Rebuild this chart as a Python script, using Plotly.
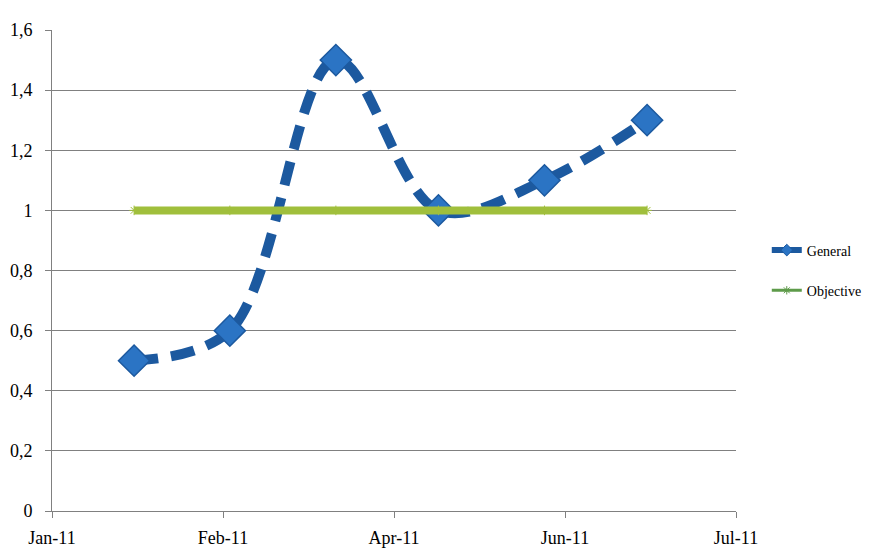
import plotly.graph_objects as go

dates = ["2011-01-31", "2011-02-28", "2011-03-31", "2011-04-30", "2011-05-31", "2011-06-30"]
general = [0.5, 0.6, 1.5, 1.0, 1.1, 1.3]
objective = [1, 1, 1, 1, 1, 1]

x_tickvals = ["2011-01-07", "2011-02-26", "2011-04-17", "2011-06-06", "2011-07-26"]
x_ticktext = ["Jan-11", "Feb-11", "Apr-11", "Jun-11", "Jul-11"]
y_tickvals = [0, 0.2, 0.4, 0.6, 0.8, 1.0, 1.2, 1.4, 1.6]

FONT = "Liberation Serif, DejaVu Serif, serif"
BLUE_LINE = "#1C599F"
BLUE_MARK = "#2B74C4"
GREEN = "#A0BF3C"

fig = go.Figure()
fig.add_trace(go.Scatter(
    x=dates, y=general, name="General", mode="lines+markers", showlegend=False,
    line=dict(color=BLUE_LINE, width=10, dash="24px,13px", shape="spline", smoothing=1.0),
    marker=dict(symbol="diamond", size=24, color=BLUE_MARK,
                line=dict(color=BLUE_LINE, width=1.5)),
))
fig.add_trace(go.Scatter(
    x=dates, y=objective, name="Objective", mode="lines+markers", showlegend=False,
    line=dict(color=GREEN, width=8),
    marker=dict(symbol="asterisk-open", size=8, color=GREEN,
                line=dict(color="#8DAA30", width=1)),
))
# legend entries (smaller markers, like the reference legend)
fig.add_trace(go.Scatter(
    x=[None], y=[None], name="General", mode="lines+markers",
    line=dict(color=BLUE_LINE, width=6),
    marker=dict(symbol="diamond", size=9, color=BLUE_MARK, line=dict(color=BLUE_LINE, width=1)),
    legendgroup="g1",
))
fig.add_trace(go.Scatter(
    x=[None], y=[None], name="Objective", mode="lines+markers",
    line=dict(color="#5E9B4A", width=3),
    marker=dict(symbol="asterisk-open", size=7, color="#5E9B4A", line=dict(color="#5E9B4A", width=1)),
    legendgroup="g2",
))

fig.update_layout(
    width=877, height=558,
    margin=dict(l=44, r=149, t=22, b=55),
    paper_bgcolor="white", plot_bgcolor="white",
    separators=",.",
    font=dict(family=FONT, size=17, color="black"),
    showlegend=True,
    legend=dict(x=1.045, y=0.5, xanchor="left", yanchor="middle",
                font=dict(family=FONT, size=14, color="black"),
                tracegroupgap=19, traceorder="grouped",
                itemwidth=30, bgcolor="rgba(0,0,0,0)"),
    xaxis=dict(type="date", range=["2011-01-07", "2011-07-26"],
               tickvals=x_tickvals, ticktext=x_ticktext, automargin=False,
               showgrid=False, showline=True, linecolor="#808080", linewidth=1,
               ticks="outside", ticklen=6, tickcolor="#808080", ticklabelstandoff=4,
               zeroline=False, tickfont=dict(family=FONT, size=18)),
    yaxis=dict(range=[0, 1.6], tickvals=y_tickvals, tickformat="~g", automargin=False,
               showgrid=True, gridcolor="#808080", gridwidth=1,
               showline=True, linecolor="#808080", linewidth=1,
               ticks="outside", ticklen=6, tickcolor="#808080", ticklabelstandoff=9,
               zeroline=False, tickfont=dict(family=FONT, size=18)),
)

fig.write_html("out.html")
